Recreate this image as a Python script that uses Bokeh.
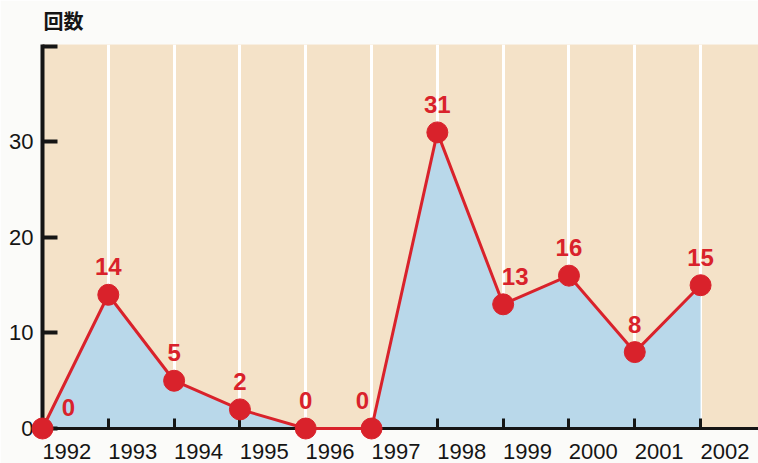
from bokeh.plotting import figure
from bokeh.models import Range1d, FixedTicker, ColumnDataSource, Title
from bokeh.core.properties import value
from bokeh.embed import file_html
from bokeh.resources import INLINE

# ---- data ----
years = [1992, 1993, 1994, 1995, 1996, 1997, 1998, 1999, 2000, 2001, 2002]
counts = [0, 14, 5, 2, 0, 0, 31, 13, 16, 8, 15]
year_labels = [str(y) for y in years]
y_ticks = [0, 10, 20, 30, 40]
y_tick_labels = ["0", "10", "20", "30", ""]
title_text = "回数"

# ---- style ----
BG = "#f4e2c8"
BLUE = "#b9d8ea"
RED = "#d9222b"
INK = "#151515"
NUM_FONT = "Liberation Sans"
label_shift = 0.37  # year labels start at their year's tick

p = figure(width=758, height=463, output_backend="svg", toolbar_location=None,
           x_range=Range1d(1992, 2002.88), y_range=Range1d(0, 40.2),
           min_border_left=42, min_border_right=0, min_border_top=44, min_border_bottom=35,
           background_fill_color=BG, border_fill_color="#fbfbf9", outline_line_color=None)

p.title.text = title_text
p.title.align = "left"
p.title.text_font = "Noto Sans CJK JP"
p.title.text_font_size = "20px"
p.title.text_font_style = "bold"
p.title.text_color = INK
p.title.offset = 1
p.title.standoff = 6

# small spacer between the title and the plot frame
p.add_layout(Title(text=" ", text_font_size="1px", standoff=4), "above")

# x axis: labels shifted right of the ticks, tick marks as minor ticks at years
label_pos = [y + label_shift for y in years]
xa = p.xaxis[0]
xa.ticker = FixedTicker(ticks=label_pos, minor_ticks=years)
xa.major_label_overrides = {pos: lab for pos, lab in zip(label_pos, year_labels)}
xa.major_tick_line_color = None
xa.minor_tick_in = 10
xa.minor_tick_out = 0
xa.minor_tick_line_width = 3
xa.minor_tick_line_color = INK
xa.axis_line_width = 3
xa.axis_line_color = INK
xa.major_label_standoff = 9
xa.major_label_text_font = NUM_FONT
xa.major_label_text_font_size = "22px"
xa.major_label_text_color = INK

ya = p.yaxis[0]
ya.ticker = FixedTicker(ticks=y_ticks, minor_ticks=[])
ya.major_label_overrides = {t: lab for t, lab in zip(y_ticks, y_tick_labels)}
ya.major_tick_in = 15
ya.major_tick_out = 0
ya.major_tick_line_width = 4
ya.major_tick_line_color = INK
ya.minor_tick_line_color = None
ya.axis_line_width = 4
ya.axis_line_color = INK
ya.major_label_standoff = 9
ya.major_label_text_font = NUM_FONT
ya.major_label_text_font_size = "22px"
ya.major_label_text_color = INK

p.xgrid.ticker = FixedTicker(ticks=years)
p.xgrid.grid_line_color = "white"
p.xgrid.grid_line_width = 3
p.ygrid.grid_line_color = None

src = ColumnDataSource(dict(x=years, y=counts, base=[0] * len(years),
                            txt=[str(c) for c in counts]))

p.varea(x="x", y1="base", y2="y", source=src, fill_color=BLUE)
p.line(x="x", y="y", source=src, line_color=RED, line_width=3, level="overlay")
p.scatter(x="x", y="y", source=src, size=21, fill_color=RED, line_color=RED, level="overlay")

x_off = [26, 0, 0, 0, 0, -9, 0, 12, 0, 0, 0]
y_off = [-21] + [-28] * (len(years) - 1)
src.data["xo"] = x_off
src.data["yo"] = y_off
p.text(x="x", y="y", text="txt", source=src, x_offset="xo", y_offset="yo",
       text_align="center", text_baseline="alphabetic", text_color=RED,
       text_font=value(NUM_FONT), text_font_size="24px", text_font_style="bold",
       level="overlay")

open("out.html", "w").write(file_html(p, INLINE))
